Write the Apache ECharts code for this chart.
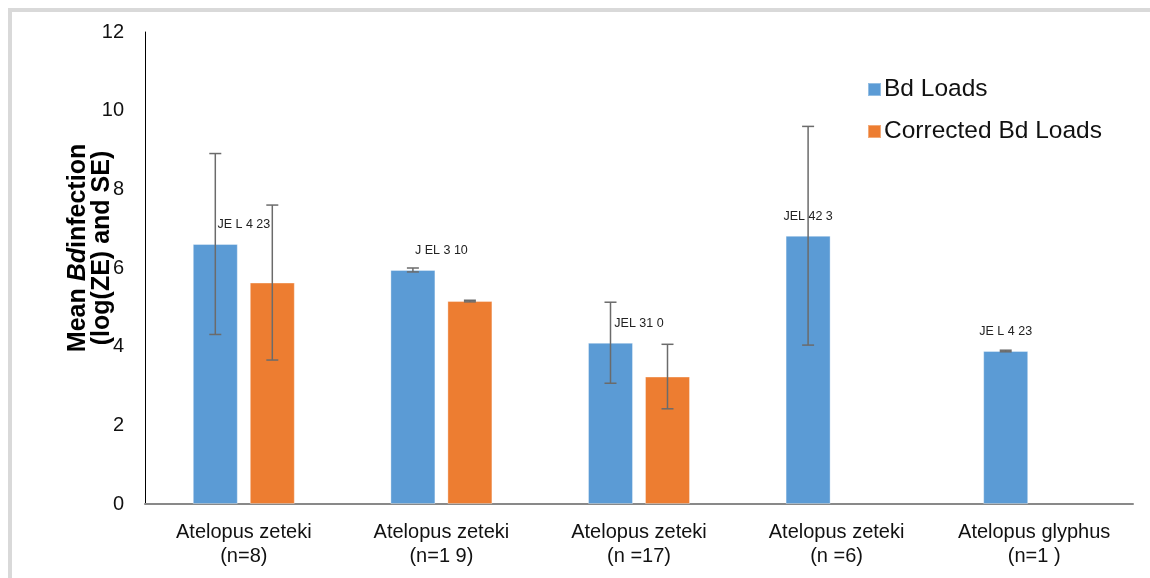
<!DOCTYPE html>
<html>
<head>
<meta charset="utf-8">
<title>Mean Bd infection by species</title>
<script src="https://cdn.jsdelivr.net/npm/echarts@6/dist/echarts.min.js"></script>
<style>
  html, body { margin: 0; padding: 0; background: #ffffff; }
  #chart { width: 1150px; height: 578px; }
</style>
</head>
<body>
<div id="chart"></div>
<script>
// Species groups along the x axis, with their sample sizes on a second line
const species = ['Atelopus zeteki', 'Atelopus zeteki', 'Atelopus zeteki', 'Atelopus zeteki', 'Atelopus glyphus'];
const sampleSizes = ['(n=8)', '(n=1 9)', '(n =17)', '(n =6)', '(n=1 )'];

// Mean infection intensity, log(ZE), and its standard error
const bdLoads = [6.61, 5.95, 4.10, 6.82, 3.89];
const bdLoadsSE = [2.30, 0.05, 1.03, 2.78, 0.02];
const correctedLoads = [5.63, 5.16, 3.24, null, null];
const correctedSE = [1.97, 0.02, 0.82, null, null];

// Bd strain used for each group
const strainLabels = ['JE L 4 23', 'J EL 3 10', 'JEL 31 0', 'JEL 42 3', 'JE L 4 23'];

// Value axis ticks
const yMin = 0, yMax = 12, yStep = 2;

const BLUE = '#5b9bd5';
const ORANGE = '#ed7d31';
const BAR_W = 45;
const BAR_GAP_PX = 12;
const SLOT = (BAR_W + BAR_GAP_PX) / 2;   // distance from category centre to each bar centre
const FONT = '"Liberation Sans", Arial, sans-serif';

// [category index, mean, se] rows for the error-bar series
function errorRows(means, ses) {
  const rows = [];
  means.forEach((m, i) => { if (m != null) rows.push([i, m, ses[i]]); });
  return rows;
}

function errorBarRenderer(offset) {
  return function (params, api) {
    const i = api.value(0), m = api.value(1), se = api.value(2);
    const x = api.coord([i, m])[0] + offset;
    const yTop = api.coord([i, m + se])[1];
    const yBot = api.coord([i, m - se])[1];
    const cap = 6;
    const style = { stroke: '#6b6b6b', lineWidth: 1.5 };
    return {
      type: 'group',
      children: [
        { type: 'line', shape: { x1: x, y1: yTop, x2: x, y2: yBot }, style },
        { type: 'line', shape: { x1: x - cap, y1: yTop, x2: x + cap, y2: yTop }, style },
        { type: 'line', shape: { x1: x - cap, y1: yBot, x2: x + cap, y2: yBot }, style }
      ]
    };
  };
}

const titleStyle = { fontSize: 25, fontWeight: 'bold', color: '#000000', fontFamily: FONT, lineHeight: 24 };

const chart = echarts.init(document.getElementById('chart'), null, { renderer: 'canvas' });

chart.setOption({
  animation: false,
  backgroundColor: '#ffffff',
  textStyle: { fontFamily: FONT },
  graphic: [{
    type: 'rect',
    silent: true,
    shape: { x: 10, y: 10, width: 1300, height: 700 },
    style: { fill: 'none', stroke: '#d9d9d9', lineWidth: 4 }
  }],
  grid: { left: 145, right: 17, top: 32, bottom: 74, containLabel: false },
  legend: {
    orient: 'vertical',
    left: 862,
    top: 72,
    itemWidth: 13,
    itemHeight: 13,
    itemGap: 17,
    icon: 'rect',
    data: ['Bd Loads', 'Corrected Bd Loads'],
    textStyle: { fontSize: 24.5, color: '#111111', fontFamily: FONT, padding: [0, 0, 0, -2] }
  },
  xAxis: {
    type: 'category',
    data: species,
    axisLine: { show: true, lineStyle: { color: '#898989', width: 2 } },
    axisTick: { show: false },
    axisLabel: {
      interval: 0,
      margin: 16,
      fontSize: 20,
      lineHeight: 24,
      color: '#111111',
      formatter: (value, idx) => value + '\n' + sampleSizes[idx]
    },
    splitLine: { show: false }
  },
  yAxis: {
    type: 'value',
    min: yMin,
    max: yMax,
    interval: yStep,
    name: '{b|Mean }{bi|Bd}{b|infection}\n{b|(log(ZE) and SE)}',
    nameLocation: 'middle',
    nameGap: 31,
    nameMoveOverlap: false,
    nameRotate: 90,
    nameTextStyle: Object.assign({}, titleStyle, {
      padding: [0, 0, 0, 40],
      rich: {
        b: Object.assign({}, titleStyle),
        bi: Object.assign({}, titleStyle, { fontStyle: 'italic' })
      }
    }),
    axisLine: { show: true, lineStyle: { color: '#000000', width: 1 } },
    axisTick: { show: false },
    axisLabel: { fontSize: 20, color: '#111111', margin: 21 },
    splitLine: { show: false }
  },
  series: [
    {
      name: 'Bd Loads',
      type: 'bar',
      data: bdLoads,
      barWidth: BAR_W,
      barGap: (BAR_GAP_PX / BAR_W * 100) + '%',
      itemStyle: { color: BLUE, borderColor: 'rgba(255,255,255,0.35)', borderWidth: 1 }
    },
    {
      name: 'Corrected Bd Loads',
      type: 'bar',
      data: correctedLoads,
      barWidth: BAR_W,
      itemStyle: { color: ORANGE, borderColor: 'rgba(255,255,255,0.35)', borderWidth: 1 }
    },
    {
      name: 'Bd Loads SE',
      type: 'custom',
      z: 5,
      silent: true,
      data: errorRows(bdLoads, bdLoadsSE),
      encode: { x: 0, y: 1 },
      renderItem: errorBarRenderer(-SLOT)
    },
    {
      name: 'Corrected SE',
      type: 'custom',
      z: 5,
      silent: true,
      data: errorRows(correctedLoads, correctedSE),
      encode: { x: 0, y: 1 },
      renderItem: errorBarRenderer(SLOT)
    },
    {
      // strain name written above each group
      name: 'Strain',
      type: 'custom',
      z: 6,
      silent: true,
      data: bdLoads.map((v, i) => [i, v]),
      encode: { x: 0, y: 1 },
      renderItem: function (params, api) {
        const i = api.value(0), v = api.value(1);
        const p = api.coord([i, v]);
        const x = correctedLoads[i] != null ? p[0] : p[0] - SLOT;
        return {
          type: 'text',
          style: {
            x: x,
            y: p[1] - 19,
            text: strainLabels[i],
            fontSize: 12.5,
            fontFamily: FONT,
            fill: '#222222',
            align: 'center',
            verticalAlign: 'middle'
          }
        };
      }
    }
  ]
});
</script>
</body>
</html>
